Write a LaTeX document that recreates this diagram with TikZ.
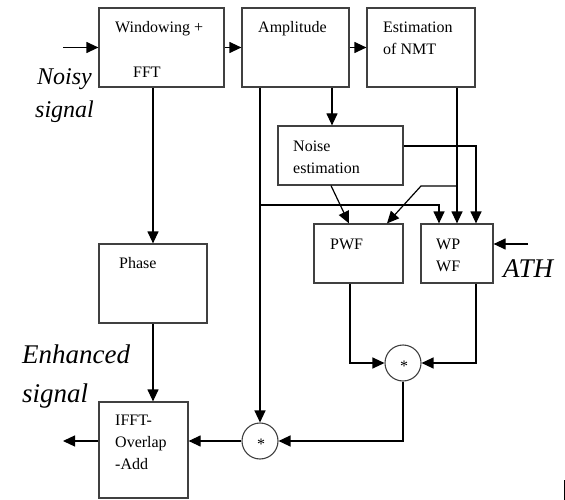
\documentclass[tikz,border=0pt]{standalone}
\usepackage{fontspec}
\setmainfont{Liberation Serif}
\usetikzlibrary{arrows.meta}
\begin{document}
\begin{tikzpicture}[x=1pt,y=-1pt,
  box/.style={draw=black!75,line width=1.2pt,inner sep=0pt,rectangle},
  mul/.style={draw=black!75,line width=1.1pt,circle,inner sep=0pt,minimum size=36pt},
  conn/.style={line width=1.2pt,-{Triangle[length=12pt,width=11pt]}},
  plain/.style={line width=1.2pt},
  txt/.style={anchor=base west,inner sep=0pt,font=\fontsize{16}{20}\selectfont},
  itxt/.style={anchor=base west,inner sep=0pt,font=\fontsize{#1}{#1}\selectfont\itshape}]
\useasboundingbox (0,0) rectangle (565,500);
% boxes
\node[box,minimum width=125pt,minimum height=79pt] (win) at (161.5,47.5) {};
\node[box,minimum width=107pt,minimum height=79pt] (amp) at (295.5,47.5) {};
\node[box,minimum width=108pt,minimum height=79pt] (est) at (421,47.5) {};
\node[box,minimum width=125pt,minimum height=59pt] (noise) at (340.5,155.5) {};
\node[box,minimum width=89pt,minimum height=59pt] (pwf) at (358.5,253.5) {};
\node[box,minimum width=72pt,minimum height=59pt] (wp) at (457,253.5) {};
\node[box,minimum width=108pt,minimum height=79pt] (phase) at (153,283.5) {};
\node[box,minimum width=89pt,minimum height=96pt] (ifft) at (143.5,450) {};
\node[mul] (m1) at (403,363) {};
\node[mul] (m2) at (260,441) {};
% texts
\node[txt] (t1) at (115,33) {Windowing +};
\node[txt] (t2) at (133,78) {FFT};
\node[txt] (t3) at (258,33) {Amplitude};
\node[txt] (t4) at (383,33) {Estimation};
\node[txt] (t5) at (383,55) {of NMT};
\node[txt] (t6) at (293,152) {Noise};
\node[txt] (t7) at (293,173) {estimation};
\node[txt] (t8) at (330,249) {PWF};
\node[txt] (t9) at (436,249) {WP};
\node[txt] (t10) at (436,271) {WF};
\node[txt] (t11) at (119,268) {Phase};
\node[txt] (t12) at (115,425) {IFFT-};
\node[txt] (t13) at (115,447) {Overlap};
\node[txt] (t14) at (115,469) {-Add};
\node[txt] (s1) at (400,371) {*};
\node[txt] (s2) at (257,449) {*};
\node[itxt=24] (l1) at (37,85) {Noisy};
\node[itxt=24] (l2) at (35,118) {signal};
\node[itxt=27] (l3) at (22,363) {Enhanced};
\node[itxt=27] (l4) at (22,402) {signal};
\node[itxt=27] (l5) at (503,277) {ATH};
% free ends
\coordinate (in) at (63,47.5);
\coordinate (out) at (63,441);
\coordinate (ath) at (528,244);
\coordinate (j1) at (260,205);
\coordinate (j2) at (421,186);
\coordinate (mk1) at (564,480);
\coordinate (mk2) at (564,500);
% connectors
\draw[conn] (in) -- (win.west);
\draw[conn] (win.east) -- (amp.west);
\draw[conn] (amp.east) -- (est.west);
\draw[conn] (phase.north |- win.south) -- (phase.north);
\draw[conn] (phase.south) -- (phase.south |- ifft.north);
\draw[conn] (ifft.west |- m2) -- (out);
\draw[conn] (m2.west) -- (ifft.east |- m2);
\draw[conn] (m2.north |- amp.south) -- (m2.north);
\draw[conn] (j1) -| ([xshift=-18pt]wp.north);
\draw[conn] ([xshift=-8.5pt]noise.north |- amp.south) -- ([xshift=-8.5pt]noise.north);
\draw[conn] ([xshift=-9.5pt]noise.south) -- ([xshift=-9.5pt]pwf.north);
\draw[conn] ([yshift=9.5pt]noise.east) -| ([xshift=19pt]wp.north);
\draw[conn] (wp.north |- est.south) -- (wp.north);
\draw[conn] (wp.north |- j2) -- (j2) -- ([xshift=28.5pt]pwf.north);
\draw[conn] (ath) -- ([yshift=9.5pt]wp.east);
\draw[conn] ([xshift=-8.5pt]pwf.south) |- (m1.west);
\draw[conn] ([xshift=19pt]wp.south) |- (m1.east);
\draw[conn] (m1.south) |- (m2.east);
\draw[line width=1pt] (mk1) -- (mk2);
\end{tikzpicture}
\end{document}
